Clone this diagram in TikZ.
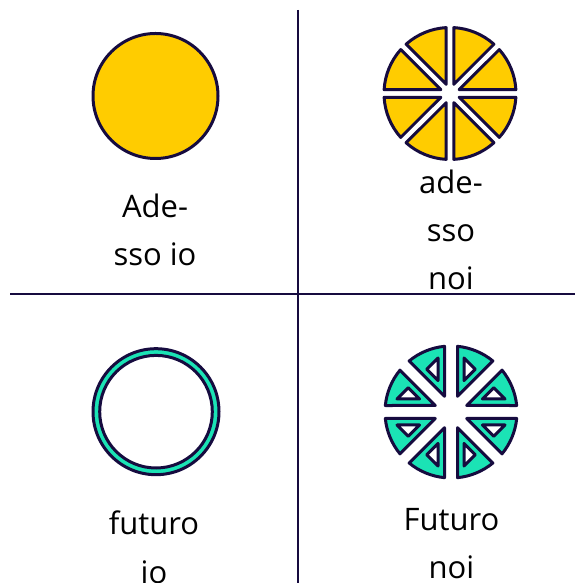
\documentclass[tikz,border=0pt]{standalone}
\usepackage{fontspec}
\setmainfont{Open Sans}
\usepackage{xcolor}
\usetikzlibrary{positioning}
\definecolor{ink}{HTML}{160B3F}
\definecolor{sun}{HTML}{FFCC00}
\definecolor{mint}{HTML}{1BE3B5}

\begin{document}
\begin{tikzpicture}[x=1pt, y=1pt,
    divider/.style={draw=ink, line width=2.8pt},
    disc/.style={circle, draw=ink, line width=3pt, fill=sun, minimum size=125pt, inner sep=0pt},
    slice/.style={draw=ink, line width=3pt, line join=round, fill=#1},
    hole/.style={draw=ink, line width=3pt, line join=round, fill=white},
    word/.style={font=\fontsize{31}{48}\selectfont, align=center, anchor=base, inner sep=0pt}
]
    \useasboundingbox (0,0) rectangle (575,583);

    % quadrants
    \coordinate (top) at (298,573);
    \coordinate (bottom) at (298,0);
    \coordinate (left) at (10,289);
    \coordinate (right) at (575,289);
    \draw[divider] (top) -- (bottom);
    \draw[divider] (left) -- (right);

    % now, me
    \node[disc] (sunio) at (155.5,487) {};
    \node[word] (adessoio) at (155,317.7) {Ade-\\sso io};

    % now, us
    \coordinate (sunnoi) at (450,489.5);
    \begin{scope}[shift={(sunnoi)}]
        \foreach \a in {0,45,...,315}
            \draw[slice=sun, rotate=\a] (9.17,3.8) -- (3.3:66) arc[start angle=3.3, end angle=41.7, radius=66] -- cycle;
    \end{scope}
    \node[word] (adessonoi) at (451,293.7) {ade-\\sso\\noi};

    % future, me
    \coordinate (ringio) at (156,171.3);
    \draw[divider, line width=3pt, fill=mint, even odd rule] (ringio) circle[radius=63] (ringio) circle[radius=56.3];
    \node[word] (futuroio) at (154,0) {futuro\\io};

    % future, us
    \coordinate (ringnoi) at (451,171);
    \begin{scope}[shift={(ringnoi)}]
        \foreach \k in {0,90,180,270} {
            \begin{scope}[rotate=\k]
                \draw[slice=mint] (15.69,6.5) -- (5.65:66) arc[start angle=5.65, end angle=39.35, radius=66] -- cycle;
                \draw[hole] (31.4,13) -- (54,13) -- (42.7,24.3) -- cycle;
                \begin{scope}[cm={0,1,1,0,(0,0)}]
                    \draw[slice=mint] (15.69,6.5) -- (5.65:66) arc[start angle=5.65, end angle=39.35, radius=66] -- cycle;
                    \draw[hole] (31.4,13) -- (54,13) -- (42.7,24.3) -- cycle;
                \end{scope}
            \end{scope}
        }
    \end{scope}
    \node[word] (futuronoi) at (451.5,4.7) {Futuro\\noi};
\end{tikzpicture}
\end{document}
